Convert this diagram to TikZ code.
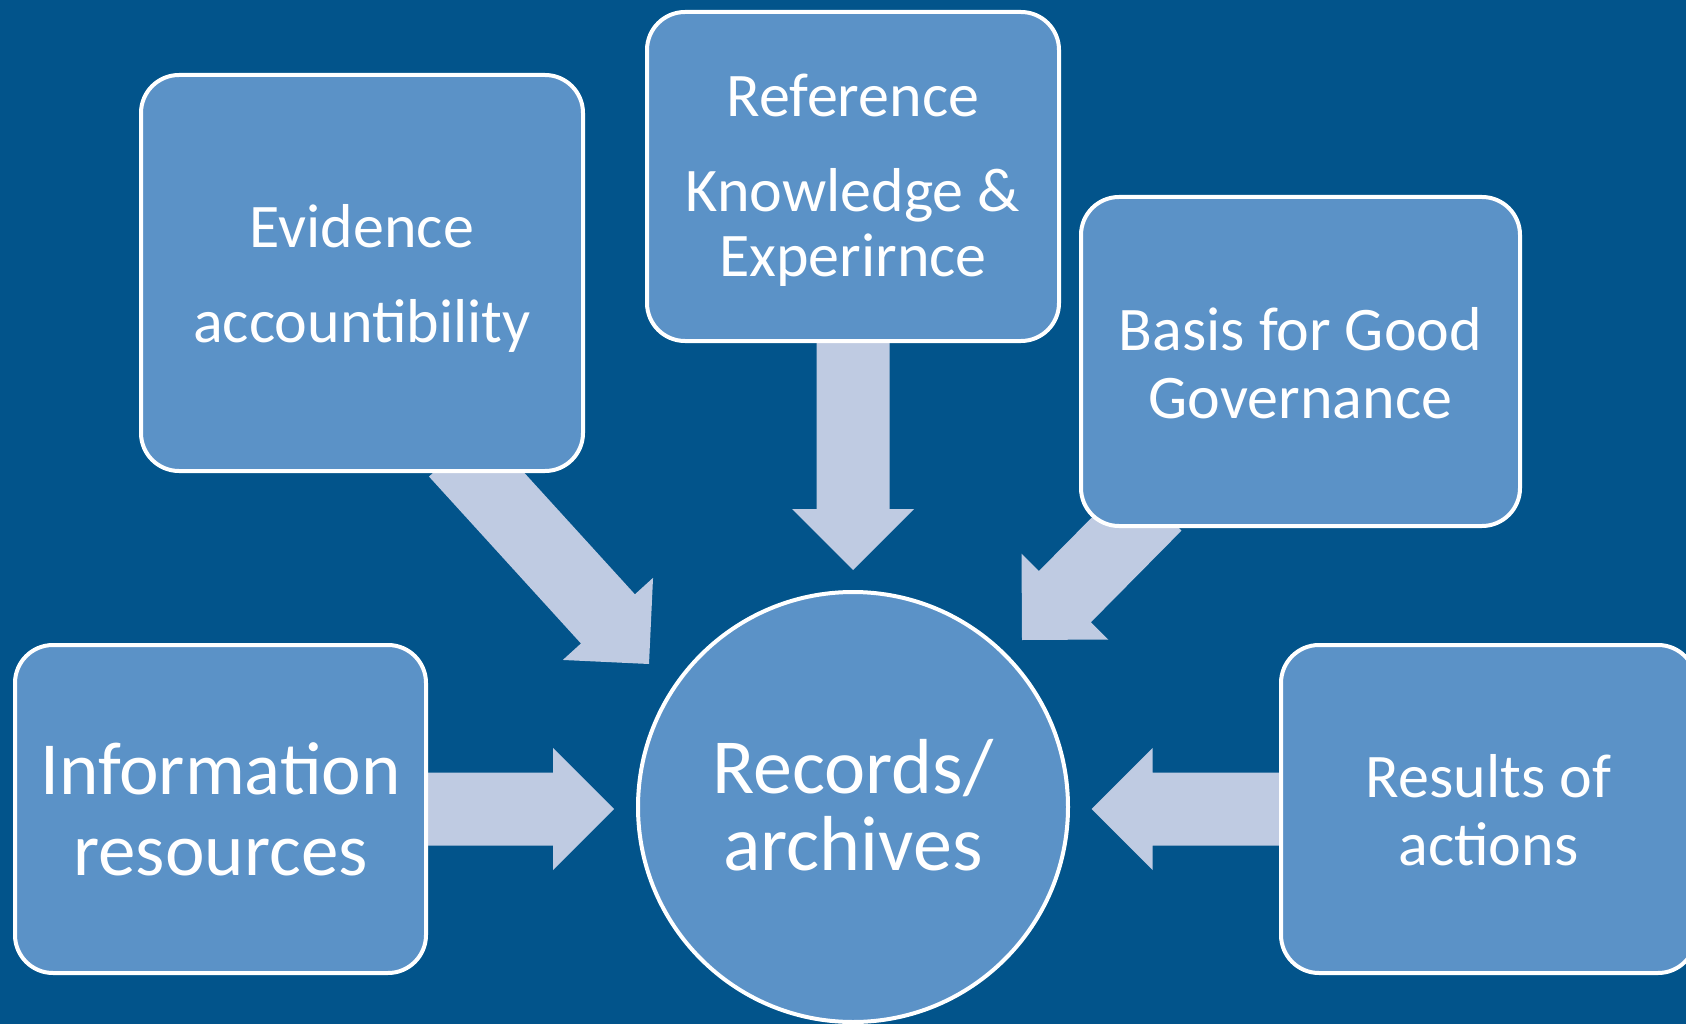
\documentclass[tikz,border=0pt]{standalone}
\usepackage{fontspec}
\setmainfont{Carlito}
\usetikzlibrary{calc}
\pgfdeclarelayer{bg}
\pgfsetlayers{bg,main}
\definecolor{bgblue}{RGB}{2,84,139}
\definecolor{boxblue}{RGB}{91,146,199}
\definecolor{arrowfill}{RGB}{191,203,226}
\newcommand\blockarr[2]{%
  \coordinate (hb) at ($(#2)!61pt!(#1)$);
  \fill[arrowfill] ($(#1)!36.5pt!90:(#2)$) -- ($(hb)!36.5pt!90:(#2)$) -- ($(hb)!61pt!90:(#2)$) -- (#2) -- ($(hb)!61pt!-90:(#2)$) -- ($(hb)!36.5pt!-90:(#2)$) -- ($(#1)!36.5pt!-90:(#2)$) -- cycle;}
\begin{document}
\begin{tikzpicture}[x=1pt,y=-1pt,
  box/.style={rectangle, draw=white, line width=4pt, fill=boxblue, rounded corners=38pt, inner sep=0pt},
  hub/.style={circle, draw=white, line width=4pt, fill=boxblue, inner sep=0pt, minimum size=430pt},
  txt/.style={text=white, inner sep=0pt, anchor=base}]
\useasboundingbox (0,0) rectangle (1686,1024);
\begin{pgfonlayer}{bg}
\fill[bgblue] (0,0) rectangle (1686,1024);
\end{pgfonlayer}
% boxes
\node[box, minimum width=442pt, minimum height=396pt] (evi) at (362,273) {};
\node[box, minimum width=412pt, minimum height=329pt] (ref) at (853,176.5) {};
\node[box, minimum width=439pt, minimum height=329pt] (bas) at (1300.5,361.5) {};
\node[box, minimum width=411pt, minimum height=328pt] (inf) at (220.5,809) {};
\node[box, minimum width=415pt, minimum height=328pt] (res) at (1488.5,809) {};
\node[hub] (rec) at (853,807) {};
% texts
\node[txt, font=\fontsize{62}{67}\selectfont] (evi-l) at (362,248)
  {\begin{tabular}[t]{@{}c@{}}Evidence\\[28pt]accountibility\end{tabular}};
\node[txt, font=\fontsize{62}{65}\selectfont] (ref-l) at (853,117)
  {\begin{tabular}[t]{@{}c@{}}Reference\\[30pt]Knowledge \&\\Experirnce\end{tabular}};
\node[txt, font=\fontsize{62}{68}\selectfont] (bas-l) at (1300.5,350)
  {\begin{tabular}[t]{@{}c@{}}Basis for Good\\Governance\end{tabular}};
\node[txt, font=\fontsize{62}{68}\selectfont] (res-l) at (1488.5,797)
  {\begin{tabular}[t]{@{}c@{}}Results of\\actions\end{tabular}};
\node[txt, font=\fontsize{75}{81}\selectfont] (inf-l) at (220.5,794)
  {\begin{tabular}[t]{@{}c@{}}Information\\resources\end{tabular}};
\node[txt, font=\fontsize{78}{77}\selectfont] (rec-l) at (853,793)
  {\begin{tabular}[t]{@{}c@{}}Records/\\archives\end{tabular}};
% arrow ends
\coordinate (evi-s) at ($(evi.south)+(94,-21)$);
\coordinate (evi-t) at (649,664);
\coordinate (ref-t) at (853,570);
\coordinate (bas-s) at (1155.5,505);
\coordinate (bas-t) at (1022,640);
\coordinate (inf-t) at (614,809);
\coordinate (res-t) at (1091.5,809);
\begin{pgfonlayer}{bg}
\blockarr{evi-s}{evi-t}
\blockarr{ref.center}{ref-t}
\blockarr{bas-s}{bas-t}
\blockarr{inf.center}{inf-t}
\blockarr{res.center}{res-t}
\end{pgfonlayer}
\end{tikzpicture}
\end{document}
